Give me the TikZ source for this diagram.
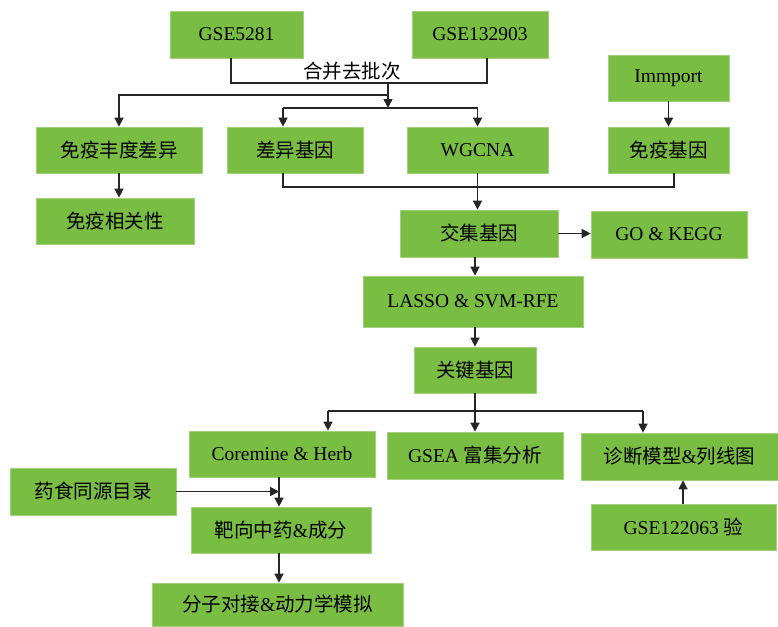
\documentclass[tikz,border=0pt]{standalone}
\usepackage{fontspec}
\setmainfont{Liberation Serif}
\newfontfamily\cjk{Noto Sans CJK SC}
\usetikzlibrary{arrows.meta}
\definecolor{boxgreen}{RGB}{121,189,67}
\definecolor{boxedge}{RGB}{160,210,125}
\begin{document}
\begin{tikzpicture}[x=1pt,y=-1pt,
  every node/.style={font=\fontsize{19.5}{23}\selectfont},
  box/.style={fill=boxgreen,draw=boxedge,line width=0.7pt,inner sep=0pt,align=center},
  conn/.style={draw=black!85,line width=1.5pt},
  arr/.style={conn,-{Triangle[length=9pt,width=9pt]}}]
\useasboundingbox (0,0) rectangle (778,626);
% boxes
\node[box,minimum width=133,minimum height=47] (g1) at (236.5,34.5) {GSE5281};
\node[box,minimum width=136,minimum height=47] (g2) at (480,34.5) {GSE132903};
\node[box,minimum width=121,minimum height=46] (imm) at (668.5,78) {Immport};
\node[box,minimum width=166,minimum height=46] (myfd) at (119,150) {\cjk 免疫丰度差异};
\node[box,minimum width=136,minimum height=46] (cyjy) at (295,150) {\cjk 差异基因};
\node[box,minimum width=141,minimum height=46] (wgcna) at (477.5,150) {WGCNA};
\node[box,minimum width=121,minimum height=46] (myjy) at (668.5,150) {\cjk 免疫基因};
\node[box,minimum width=158,minimum height=46] (myxg) at (115,221) {\cjk 免疫相关性};
\node[box,minimum width=158,minimum height=47] (jj) at (479,233.5) {\cjk 交集基因};
\node[box,minimum width=156,minimum height=47] (go) at (669,234.5) {GO \& KEGG};
\node[box,minimum width=220,minimum height=51] (lasso) at (473,301.5) {LASSO \& SVM-RFE};
\node[box,minimum width=122,minimum height=46] (gj) at (475,370) {\cjk 关键基因};
\node[box,minimum width=186,minimum height=46] (core) at (282,454) {Coremine \& Herb};
\node[box,minimum width=176,minimum height=47] (gsea) at (475,455.5) {GSEA {\cjk 富集分析}};
\node[box,minimum width=197,minimum height=47] (zd) at (679.5,456.5) {{\cjk 诊断模型}\&{\cjk 列线图}};
\node[box,minimum width=185,minimum height=46] (g3) at (683.5,527) {GSE122063 {\cjk 验}};
\node[box,minimum width=166,minimum height=47] (ys) at (93,491.5) {\cjk 药食同源目录};
\node[box,minimum width=180,minimum height=46] (bx) at (281,530) {{\cjk 靶向中药}\&{\cjk 成分}};
\node[box,minimum width=251,minimum height=43] (fz) at (277.5,604.5) {{\cjk 分子对接}\&{\cjk 动力学模拟}};
% helper coordinates
\coordinate (g1s) at ([xshift=-5.5pt]g1.south);
\coordinate (g2s) at ([xshift=7pt]g2.south);
\coordinate (mj) at (388,83);
\coordinate (b1) at (388,95);
\coordinate (sp) at (388,108);
\coordinate (cyn) at ([xshift=-12pt]cyjy.north);
\coordinate (cys) at ([xshift=-12pt]cyjy.south);
\coordinate (mys) at ([xshift=5.5pt]myjy.south);
\coordinate (jl) at (477,187);
\coordinate (h1) at (328,411);
\coordinate (h3) at (643,411);
\coordinate (vx) at ([xshift=-3pt]core.south);
% label
\node[font=\cjk\fontsize{19.5}{23}\selectfont,anchor=south,inner sep=0pt] (lbl) at (352,80) {合并去批次};
% connectors
\draw[conn] (g1s) |- (mj) -| (g2s);
\draw[arr] (mj) -- (sp);
\draw[arr] (b1) -| (myfd.north);
\draw[arr] (cyn |- sp) -- (cyn);
\draw[arr] (cyn |- sp) -| (wgcna.north);
\draw[arr] (imm) -- (myjy);
\draw[arr] (myfd.south) -- (myfd.south |- myxg.north);
\draw[conn] (cys) |- (jl) -| (mys);
\draw[arr] (wgcna.south) -- (wgcna.south |- jj.north);
\draw[arr] (jj.east) -- (jj.east -| go.west);
\draw[arr] (jj.south -| gj) -- (gj |- lasso.north);
\draw[arr] (gj |- lasso.south) -- (gj.north);
\draw[conn] (gj.south) -- (gj.south |- h1);
\draw[conn] (h1) -- (h3);
\draw[arr] (h1) -- (h1 |- core.north);
\draw[arr] (gj.south |- h1) -- (gj.south |- gsea.north);
\draw[arr] (h3) -- (h3 |- zd.north);
\draw[arr] (vx) -- (vx |- bx.north);
\draw[arr] (ys.east) -- (ys.east -| vx);
\draw[arr] (bx.south -| vx) -- (vx |- fz.north);
\draw[arr] (g3.north -| 683,0) -- (zd.south -| 683,0);
\end{tikzpicture}
\end{document}
